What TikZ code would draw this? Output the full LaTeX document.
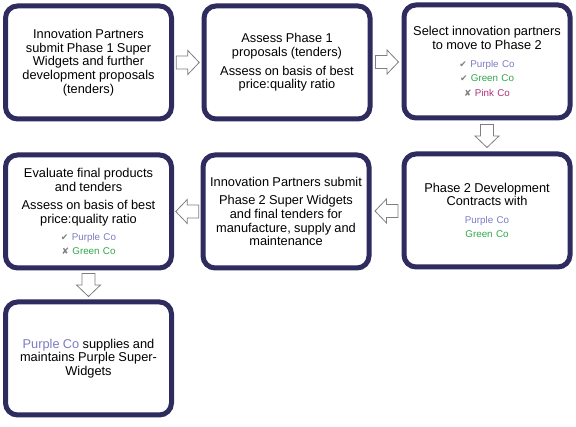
\documentclass[tikz,border=0pt]{standalone}
\usepackage{fontspec}
\setmainfont{Liberation Sans}
\newfontfamily\symfont{DejaVu Sans}
\usepackage{xcolor}
\usetikzlibrary{calc,shadows}
\definecolor{Frame}{HTML}{2E2B5F}
\definecolor{Purple}{HTML}{7C7CC4}
\definecolor{Green}{HTML}{2EA84A}
\definecolor{Pink}{HTML}{B0307A}
\definecolor{Edge}{HTML}{7F7F7F}
\newcommand{\mainsize}{\fontsize{12.8}{13.7}\selectfont}
\newcommand{\smallsize}{\fontsize{9.8}{14.5}\selectfont}
\newcommand{\tickmark}{{\symfont\fontsize{9}{9}\selectfont\color{gray}✔}}
\newcommand{\crossmark}{{\symfont\fontsize{9}{9}\selectfont\color{gray}✘}}
\newcommand{\bigarrow}[3]{
  \begin{scope}[shift={($(#1)!0.5!(#2)$)}, rotate=#3]
    \draw[fill=white, draw=Edge, line width=0.8pt, line join=miter] (-11.5,-6.5) -- (0,-6.5) -- (0,-12) -- (11.5,0) -- (0,12) -- (0,6.5) -- (-11.5,6.5) -- cycle;
  \end{scope}
}

\begin{document}
\begin{tikzpicture}[x=1pt, y=1pt,
    stage/.style={draw=Frame, line width=5pt, rounded corners=12pt, fill=white,
      minimum width=166pt, minimum height=113pt, text width=164pt, align=center, inner sep=0pt,
      drop shadow={opacity=0.2, shadow xshift=1.5pt, shadow yshift=-1.5pt}}]
    \useasboundingbox[fill=white] (0,0) rectangle (576,427);
    % top row
    \node[stage] (b1) at (88.5,364.5) {\mainsize Innovation Partners\\submit Phase 1 Super\\Widgets and further\\development proposals\\(tenders)\par};
    \node[stage] (b2) at (287,364.5) {\mainsize Assess  Phase 1\\proposals (tenders)\\[5pt]Assess on basis of best\\price:quality ratio\par};
    \node[stage] (b3) at (487,365.5) {{\mainsize Select innovation partners\\to move to Phase 2\par}\vspace{3pt}
      {\smallsize \tickmark\ \textcolor{Purple}{Purple Co}\\\tickmark\ \textcolor{Green}{Green Co}\\\crossmark\ \textcolor{Pink}{Pink Co}\par}};
    % middle row
    \node[stage] (b6) at (487,216.5) {{\mainsize Phase 2 Development\\Contracts with\par}\vspace{3pt}
      {\smallsize \textcolor{Purple}{Purple Co}\\\textcolor{Green}{Green Co}\par}};
    \node[stage] (b5) at (286,215.5) {\mainsize Innovation Partners submit\\[5pt]Phase 2 Super Widgets\\and final tenders for\\manufacture,  supply and\\maintenance\par};
    \node[stage] (b4) at (88.5,215.5) {{\mainsize Evaluate final products\\and tenders\\[5pt]Assess on basis of best\\price:quality ratio\par}\vspace{2pt}
      {\smallsize \tickmark\ \textcolor{Purple}{Purple Co}\\\crossmark\ \textcolor{Green}{Green Co}\par}};
    % bottom row
    \node[stage] (b7) at (88.5,68.5) {\mainsize \textcolor{Purple}{Purple Co} supplies and\\maintains Purple Super-\\Widgets\par};
    % block arrows
    \bigarrow{b1.east}{b2.west}{0}
    \bigarrow{b2.east}{b3.west}{0}
    \bigarrow{b3.south}{b6.north}{-90}
    \bigarrow{b6.west}{b5.east}{180}
    \bigarrow{b5.west}{b4.east}{180}
    \bigarrow{b4.south}{b7.north}{-90}
\end{tikzpicture}
\end{document}
